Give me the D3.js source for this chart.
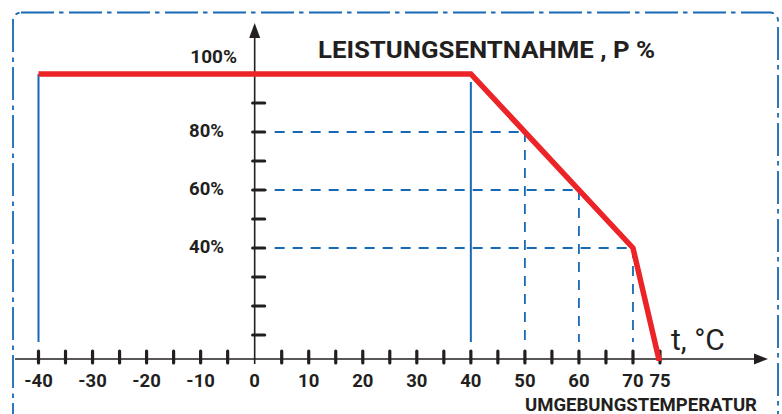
<!DOCTYPE html>
<html>
<head>
<meta charset="utf-8">
<script src="https://d3js.org/d3.v7.min.js"></script>
<style>
  body { margin: 0; background: #fff; }
  text { font-family: Roboto, "Liberation Sans", sans-serif; fill: #231f20; }
</style>
</head>
<body>
<script>
// derating curve: temperature (°C) -> power (%)
var curveTemp  = [-40, 40, 70, 75];
var curvePower = [100, 100, 40, 0];

// x ticks every 5 °C, labelled ones below
var xTickValues  = [-40, -35, -30, -25, -20, -15, -10, -5, 5, 10, 15, 20, 25, 30, 35, 40, 45, 50, 55, 60, 65, 70, 75];
var xLabelValues = [-40, -30, -20, -10, 0, 10, 20, 30, 40, 50, 60, 70, 75];

// y ticks every 10 %
var yTickValues  = [10, 20, 30, 40, 50, 60, 70, 80, 90, 100];
var yLabelValues = [40, 60, 80];

// reading guides (dashed) and solid markers
var guideTemp  = [50, 60, 70];
var guidePower = [80, 60, 40];
var solidTemp  = [-40, 40];

var W = 782, H = 414;
var red = "#ec2327", blue = "#1869b4", ink = "#231f20";

var svg = d3.select("body").append("svg")
    .attr("width", W).attr("height", H);

var x = d3.scaleLinear().domain([-40, 75]).range([38.5, 660]);
var y = d3.scaleLinear().domain([0, 100]).range([364, 74]);
var axisY = 359;   // the drawn temperature axis sits a little above y(0)
var guideBottom = 342;

// frame, dash-dot, rounded
svg.append("rect")
    .attr("x", 13).attr("y", 12.5)
    .attr("width", 765).attr("height", 440)
    .attr("rx", 8).attr("ry", 8)
    .attr("fill", "none")
    .attr("stroke", blue)
    .attr("stroke-width", 1.8)
    .attr("stroke-dasharray", "33,5,4.5,5.5");

// solid blue verticals at -40 and 40
svg.selectAll(".solid").data(solidTemp).enter().append("line")
    .attr("x1", function(d) { return x(d); })
    .attr("x2", function(d) { return x(d); })
    .attr("y1", function(d) { return d < 0 ? y(100) : y(100) + 8; })
    .attr("y2", guideBottom)
    .attr("stroke", blue).attr("stroke-width", 2);

// dashed verticals
svg.selectAll(".vguide").data(guideTemp).enter().append("line")
    .attr("x1", function(d) { return x(d); })
    .attr("x2", function(d) { return x(d); })
    .attr("y1", function(d, i) { return y(guidePower[i]); })
    .attr("y2", guideBottom)
    .attr("stroke", blue).attr("stroke-width", 1.8)
    .attr("stroke-dasharray", "10,8");

// dashed horizontals
svg.selectAll(".hguide").data(guidePower).enter().append("line")
    .attr("x1", function(d) { return d === 60 ? x(0) + 2 : x(0) + 20; })
    .attr("x2", function(d, i) { return x(guideTemp[i]); })
    .attr("y1", function(d) { return y(d); })
    .attr("y2", function(d) { return y(d); })
    .attr("stroke", blue).attr("stroke-width", 1.8)
    .attr("stroke-dasharray", "10,8");

// axes lines
svg.append("line")
    .attr("x1", 15).attr("x2", 758)
    .attr("y1", axisY).attr("y2", axisY)
    .attr("stroke", ink).attr("stroke-width", 1.6);
svg.append("path")
    .attr("d", "M768," + axisY + "L754," + (axisY - 5.5) + "L754," + (axisY + 5.5) + "Z")
    .attr("fill", ink);

svg.append("line")
    .attr("x1", x(0)).attr("x2", x(0))
    .attr("y1", 36).attr("y2", 364)
    .attr("stroke", ink).attr("stroke-width", 1.6);
svg.append("path")
    .attr("d", "M" + x(0) + ",23L" + (x(0) - 5.5) + ",38L" + (x(0) + 5.5) + ",38Z")
    .attr("fill", ink);

// x tick bars
svg.selectAll(".xt").data(xTickValues).enter().append("line")
    .attr("x1", function(d) { return x(d); })
    .attr("x2", function(d) { return x(d); })
    .attr("y1", axisY - 8).attr("y2", axisY + 4)
    .attr("stroke", ink).attr("stroke-width", 3.2)
    .attr("stroke-linecap", "round");

// y tick bars
svg.selectAll(".yt").data(yTickValues).enter().append("line")
    .attr("x1", x(0) - 2).attr("x2", x(0) + 10)
    .attr("y1", function(d) { return y(d); })
    .attr("y2", function(d) { return y(d); })
    .attr("stroke", ink).attr("stroke-width", 3.2)
    .attr("stroke-linecap", "round");

// red derating curve
svg.append("clipPath").attr("id", "clipAbove")
  .append("rect").attr("x", 0).attr("y", 0).attr("width", W).attr("height", axisY + 2);

var line = d3.line()
    .x(function(d) { return x(d[0]); })
    .y(function(d) { return y(d[1]); });

svg.append("path")
    .datum(d3.zip(curveTemp, curvePower))
    .attr("clip-path", "url(#clipAbove)")
    .attr("fill", "none")
    .attr("stroke", red)
    .attr("stroke-width", 5.5)
    .attr("stroke-linejoin", "miter")
    .attr("d", line);

// labels
svg.selectAll(".xl").data(xLabelValues).enter().append("text")
    .attr("x", function(d) { return x(d); })
    .attr("y", 387)
    .attr("text-anchor", "middle")
    .attr("font-size", 18.5).attr("font-weight", 700)
    .text(function(d) { return d; });

svg.selectAll(".yl").data(yLabelValues).enter().append("text")
    .attr("x", 224)
    .attr("y", function(d) { return y(d) + 5; })
    .attr("text-anchor", "end")
    .attr("font-size", 18.5).attr("font-weight", 700)
    .text(function(d) { return d + "%"; });

svg.append("text")
    .attr("x", 237).attr("y", 63)
    .attr("text-anchor", "end")
    .attr("font-size", 19).attr("font-weight", 700)
    .text("100%");

svg.append("text")
    .attr("x", 318).attr("y", 58)
    .attr("font-size", 24).attr("font-weight", 700)
    .attr("textLength", 337).attr("lengthAdjust", "spacingAndGlyphs")
    .text("LEISTUNGSENTNAHME , P %");

svg.append("text")
    .attr("x", 671).attr("y", 350)
    .attr("font-size", 30).attr("font-weight", 400)
    .text("t, \u00B0C");

svg.append("text")
    .attr("x", 525).attr("y", 410.5)
    .attr("font-size", 18).attr("font-weight", 700)
    .attr("textLength", 232).attr("lengthAdjust", "spacingAndGlyphs")
    .text("UMGEBUNGSTEMPERATUR");
</script>
</body>
</html>
